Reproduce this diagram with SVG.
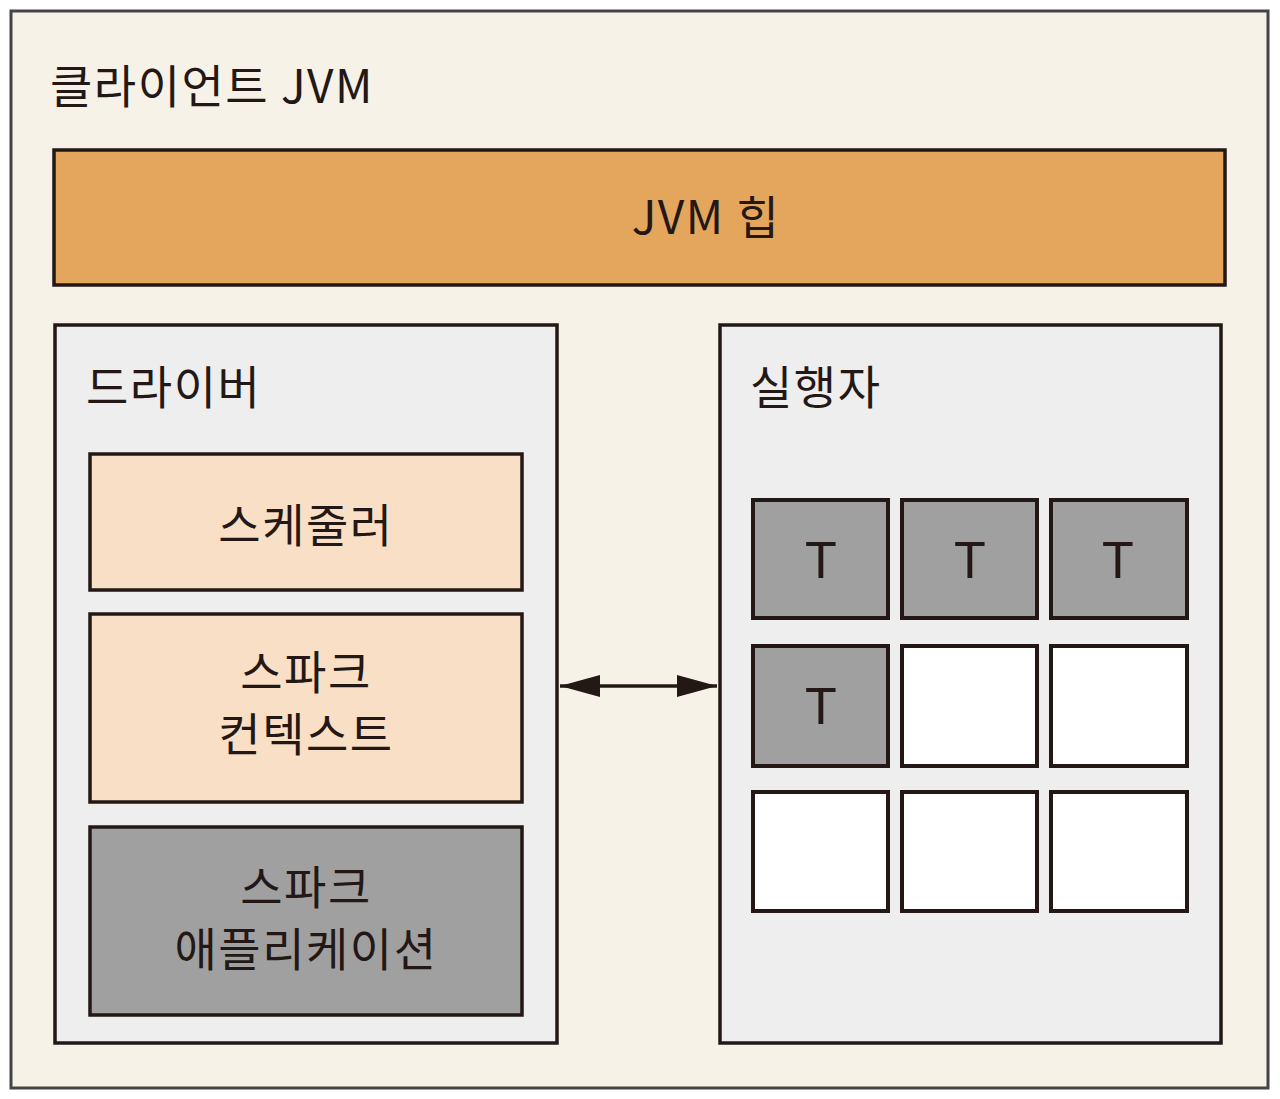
<svg xmlns="http://www.w3.org/2000/svg" width="1280" height="1099" viewBox="0 0 1280 1099">
<defs>
<style>
.t{font-family:"Noto Sans CJK KR","Noto Sans",sans-serif;fill:#231815;font-size:46px;letter-spacing:1.5px}
.c{text-anchor:middle}
.tt{font-family:"Liberation Sans","Noto Sans",sans-serif;fill:#231815;font-size:52px;text-anchor:middle}
.box{stroke:#231815;stroke-width:3.5}
.cell{stroke:#231815;stroke-width:4}
</style>
<marker id="ah" viewBox="0 0 10 10" refX="10" refY="5" markerWidth="40" markerHeight="22" markerUnits="userSpaceOnUse" orient="auto-start-reverse" preserveAspectRatio="none">
<path d="M0,0 L10,5 L0,10 Z" fill="#231815"/>
</marker>
</defs>
<rect width="1280" height="1099" fill="#ffffff"/>
<g id="client-jvm">
<rect x="11" y="11" width="1257" height="1077" fill="#F6F2E8" stroke="#444" stroke-width="3"/>
<text class="t" x="50" y="103">클라이언트 JVM</text>
</g>
<g id="jvm-heap">
<rect class="box" x="54" y="150" width="1171" height="135" fill="#E4A55C"/>
<text class="t c" x="706" y="234">JVM 힙</text>
</g>
<g id="driver">
<rect class="box" x="55" y="325" width="502" height="718" fill="#EEEEEE"/>
<text class="t" x="86" y="404">드라이버</text>
</g>
<g id="scheduler">
<rect class="box" x="90" y="454" width="432" height="136" fill="#F8DFC5"/>
<text class="t c" x="306" y="542">스케줄러</text>
</g>
<g id="spark-context">
<rect class="box" x="90" y="614" width="432" height="188" fill="#F8DFC5"/>
<text class="t c" x="306" y="689">스파크</text>
<text class="t c" x="306" y="751">컨텍스트</text>
</g>
<g id="spark-app">
<rect class="box" x="90" y="827" width="432" height="188" fill="#A0A0A0"/>
<text class="t c" x="306" y="904">스파크</text>
<text class="t c" x="306" y="966">애플리케이션</text>
</g>
<g id="executor">
<rect class="box" x="720" y="325" width="501" height="718" fill="#EEEEEE"/>
<text class="t" x="750" y="404">실행자</text>
</g>
<g id="task-1"><rect class="cell" x="753" y="500" width="135" height="118" fill="#A0A0A0"/><text class="tt" x="821" y="578">T</text></g>
<g id="task-2"><rect class="cell" x="902" y="500" width="135" height="118" fill="#A0A0A0"/><text class="tt" x="970" y="578">T</text></g>
<g id="task-3"><rect class="cell" x="1051" y="500" width="136" height="118" fill="#A0A0A0"/><text class="tt" x="1118" y="578">T</text></g>
<g id="task-4"><rect class="cell" x="753" y="646" width="135" height="120" fill="#A0A0A0"/><text class="tt" x="821" y="724">T</text></g>
<g id="slot-5"><rect class="cell" x="902" y="646" width="135" height="120" fill="#FFFFFF"/></g>
<g id="slot-6"><rect class="cell" x="1051" y="646" width="136" height="120" fill="#FFFFFF"/></g>
<g id="slot-7"><rect class="cell" x="753" y="792" width="135" height="119" fill="#FFFFFF"/></g>
<g id="slot-8"><rect class="cell" x="902" y="792" width="135" height="119" fill="#FFFFFF"/></g>
<g id="slot-9"><rect class="cell" x="1051" y="792" width="136" height="119" fill="#FFFFFF"/></g>
<g id="connectors">
<line x1="560" y1="686" x2="717" y2="686" stroke="#231815" stroke-width="3.5" marker-start="url(#ah)" marker-end="url(#ah)"/>
</g>
</svg>
